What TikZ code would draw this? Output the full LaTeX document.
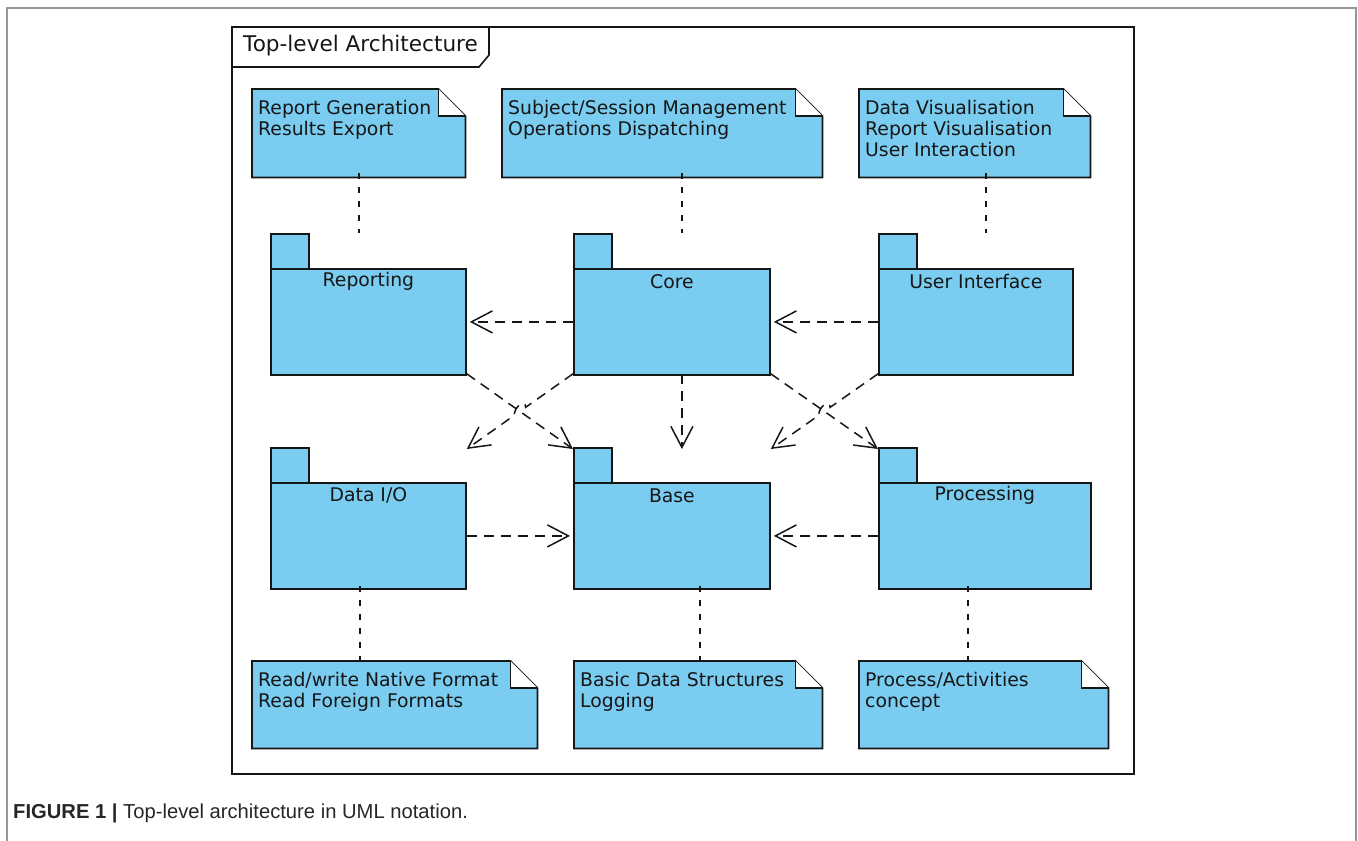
\documentclass[tikz,border=0pt]{standalone}
\usepackage{fontspec}
\setmainfont{DejaVu Sans}
\newfontfamily\capfont{Liberation Sans}
\usetikzlibrary{arrows.meta,calc}

\definecolor{pkgblue}{RGB}{122,205,240}
\definecolor{ink}{RGB}{22,22,22}
\definecolor{pagegray}{RGB}{150,150,150}

% UML package: tab + body + centred name
\newcommand\umlpackage[5]{%
  \node[pkgshape, minimum width=38, minimum height=35] (#1tab) at (#2,#3) {};
  \node[pkgshape, minimum width=#4, minimum height=106] (#1) at (#2,#3+35) {};
  \node[pkglabel] (#1L) at ($(#1.north)+(0,13.5)$) {#5};
}
% UML note with folded corner
\newcommand\umlnote[6]{%
  \node[anchor=north west, inner sep=0pt, minimum width=#4-#2, minimum height=#5-#3] (#1) at (#2,#3) {};
  \filldraw[noteshape] (#1.north west) -- ($(#1.north east)+(-27,0)$) -- ($(#1.north east)+(0,27)$)
      -- (#1.south east) -- (#1.south west) -- cycle;
  \filldraw[noteshape, fill=white] ($(#1.north east)+(-27,0)$) -- ($(#1.north east)+(-27,27)$)
      -- ($(#1.north east)+(0,27)$);
  \node[notetext] (#1T) at ($(#1.north west)+(6,11)$) {\rule{0pt}{14pt}#6};
}

\begin{document}
\begin{tikzpicture}[x=1pt,y=-1pt,
  pkgshape/.style={draw=ink, fill=pkgblue, line width=1.8pt, inner sep=0pt, anchor=north west},
  pkglabel/.style={inner sep=0pt, font=\fontsize{18.8}{21}\selectfont, text=ink},
  noteshape/.style={draw=ink, fill=pkgblue, line width=1.8pt, line join=miter},
  notetext/.style={anchor=north west, inner sep=0pt, align=left, font=\fontsize{18.8}{21}\selectfont, text=ink},
  dep/.style={draw=ink, line width=1.5pt, dash pattern=on 10pt off 7pt,
    -{Straight Barb[length=21pt, width=22pt, line width=1.5pt]}},
  notelink/.style={draw=ink, line width=2pt, dash pattern=on 6pt off 8pt},
]
\useasboundingbox (0,0) rectangle (1358,841);

% page border
\draw[pagegray, line width=1.5pt] (7,841) -- (7,8) -- (1356,8) -- (1356,841);

% diagram frame with name tab
\node[draw=ink, line width=1.6pt, anchor=north west, minimum width=902, minimum height=747, inner sep=0pt] (frame) at (231,26) {};
\draw[ink, line width=1.6pt] (frame.north west) ++(0,41) -- ++(248,0) -- ++(10,-12) -- (frame.north west -| 489,0);
\node[anchor=west, inner sep=0pt, font=\fontsize{21.6}{24}\selectfont, text=ink] (title) at (243,46) {Top-level Architecture};

% packages
\umlpackage{rep}{270}{233}{195}{Reporting}
\umlpackage{core}{573}{233}{196}{Core}
\umlpackage{ui}{878}{233}{194}{User Interface}
\umlpackage{dio}{270}{447}{195}{Data I/O}
\umlpackage{base}{573}{447}{196}{Base}
\umlpackage{proc}{878}{447}{212}{Processing}

% notes
\umlnote{nrep}{252}{89}{465}{177}{Report Generation\\Results Export}
\umlnote{ncore}{502}{89}{822}{177}{Subject/Session Management\\Operations Dispatching}
\umlnote{nui}{859}{89}{1090}{177}{Data Visualisation\\Report Visualisation\\User Interaction}
\umlnote{ndio}{252}{661}{537}{748}{Read/write Native Format\\Read Foreign Formats}
\umlnote{nbase}{574}{661}{822}{748}{Basic Data Structures\\Logging}
\umlnote{nproc}{859}{661}{1108}{748}{Process/Activities\\concept}

% note attachments
\draw[notelink] ([yshift=4pt]nrep.south) -- (nrep.south |- reptab.north);
\draw[notelink] ([xshift=10pt,yshift=4pt]core.north |- ncore.south) -- ([xshift=10pt]core.north |- coretab.north);
\draw[notelink] ([xshift=10pt,yshift=4pt]ui.north |- nui.south) -- ([xshift=10pt]ui.north |- uitab.north);
\draw[notelink] ([xshift=-8pt,yshift=4pt]dio.south) -- ([xshift=-8pt]dio.south |- ndio.north);
\draw[notelink] ([xshift=28pt,yshift=4pt]base.south) -- ([xshift=28pt]base.south |- nbase.north);
\draw[notelink] ([xshift=-17pt,yshift=4pt]proc.south) -- ([xshift=-17pt]proc.south |- nproc.north);

% dependency end points
\coordinate (repSE) at ([yshift=2pt]rep.south east);
\coordinate (coreSW) at ([yshift=2pt]core.south west);
\coordinate (coreSE) at ([yshift=2pt]core.south east);
\coordinate (uiSW) at ([yshift=2pt]ui.south west);
\coordinate (baseNW) at ([yshift=-2pt]basetab.north west);
\coordinate (baseNE) at ([yshift=-2pt]base.north east |- basetab.north);
\coordinate (dioNE) at ([yshift=-2pt]dio.north east |- diotab.north);
\coordinate (procNW) at ([yshift=-2pt]proctab.north west);
\coordinate (xa) at (intersection of repSE--baseNW and coreSW--dioNE);
\coordinate (xb) at (intersection of coreSE--procNW and uiSW--baseNE);

% dependencies
\draw[dep] (core.west) -- ([xshift=3pt]rep.east);
\draw[dep] (ui.west) -- ([xshift=3pt]core.east);
\draw[dep] (dio.east) -- ([xshift=-3pt]base.west);
\draw[dep] (proc.west) -- ([xshift=3pt]base.east);
\draw[dep] ([xshift=10pt,yshift=2pt]core.south) -- ([xshift=10pt,yshift=-2pt]core.south |- basetab.north);
\draw[dep] (repSE) -- (baseNW);
\draw[dep] (coreSE) -- (procNW);
\draw[dep] (coreSW) -- ($(xa)!7pt!(coreSW)$) .. controls +(0,-9) and +(0,-9) .. ($(xa)!7pt!(dioNE)$) -- (dioNE);
\draw[dep] (uiSW) -- ($(xb)!7pt!(uiSW)$) .. controls +(0,-9) and +(0,-9) .. ($(xb)!7pt!(baseNE)$) -- (baseNE);

% caption
\node[anchor=base west, inner sep=0pt, font=\capfont\fontsize{20.2}{23}\selectfont, text=black!85] (caption) at (13,818)
  {\textbf{FIGURE 1 |} Top-level architecture in UML notation.};
\end{tikzpicture}
\end{document}
